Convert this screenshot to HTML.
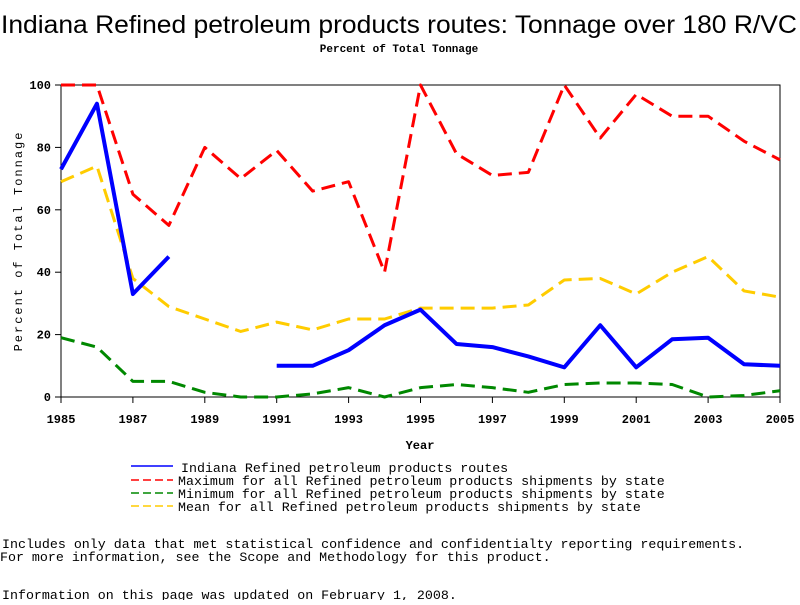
<!DOCTYPE html>
<html><head><meta charset="utf-8"><style>
body{margin:0;background:#fff;width:800px;height:600px;overflow:hidden}
svg text{font-family:"Liberation Mono",monospace}
</style></head><body>
<svg id="chart" width="800" height="600" xmlns="http://www.w3.org/2000/svg">
<text x="1" y="33" font-family="Liberation Sans, sans-serif" style="font-family:'Liberation Sans',sans-serif" font-size="25" textLength="796" lengthAdjust="spacingAndGlyphs">Indiana Refined petroleum products routes: Tonnage over 180 R/VC</text>
<text x="399" y="52" font-size="11" font-weight="bold" text-anchor="middle">Percent of Total Tonnage</text>
<rect x="61" y="85" width="719" height="312" fill="none" stroke="#000" stroke-width="1"/>
<g id="axes"></g>
<g id="series"></g>
<text x="420" y="449" font-size="12" font-weight="bold" text-anchor="middle">Year</text>
<text transform="translate(22,241) rotate(-90)" font-size="12" text-anchor="middle" letter-spacing="2">Percent of Total Tonnage</text>
<g font-size="13.3">
<line x1="131" y1="466" x2="173" y2="466" stroke="#00f" stroke-width="1.5"/>
<text x="181" y="472">Indiana Refined petroleum products routes</text>
<line x1="131" y1="480" x2="173" y2="480" stroke="#f00" stroke-width="1.5" stroke-dasharray="8,4"/>
<text x="178" y="485">Maximum for all Refined petroleum products shipments by state</text>
<line x1="131" y1="493" x2="173" y2="493" stroke="#080" stroke-width="1.5" stroke-dasharray="8,4"/>
<text x="178" y="498">Minimum for all Refined petroleum products shipments by state</text>
<line x1="131" y1="506" x2="173" y2="506" stroke="#fc0" stroke-width="1.5" stroke-dasharray="8,4"/>
<text x="178" y="511">Mean for all Refined petroleum products shipments by state</text>
</g>
<g font-size="13.3">
<text x="2" y="548">Includes only data that met statistical confidence and confidentialty reporting requirements.</text>
<text x="0" y="561">For more information, see the Scope and Methodology for this product.</text>
<text x="2" y="599">Information on this page was updated on February 1, 2008.</text>
</g>
</svg>
<script>
const years=[1985,1986,1987,1988,1989,1990,1991,1992,1993,1994,1995,1996,1997,1998,1999,2000,2001,2002,2003,2004,2005];
const indiana=[73,94,33,45,null,null,10,10,15,23,28,17,16,13,9.5,23,9.5,18.5,19,10.5,10];
const maximum=[100,100,65,55,80,70,79,66,69,40,100,78,71,72,100,83,97,90,90,82,76];
const minimum=[19,16,5,5,1.5,0,0,1,3,0,3,4,3,1.5,4,4.5,4.5,4,0,0.5,2];
const mean=[69,74,38,29,25,21,24,21.5,25,25,28.5,28.5,28.5,29.5,37.5,38,33,40,45,34,32];
const yTicks=[0,20,40,60,80,100];
const xTicks=[1985,1987,1989,1991,1993,1995,1997,1999,2001,2003,2005];
const NS='http://www.w3.org/2000/svg';
function xs(y){return 61+(y-1985)*(719/20);}
function ys(v){return 397-v*3.12;}
const axes=document.getElementById('axes'),ser=document.getElementById('series');
function mk(tag,attrs,parent){const e=document.createElementNS(NS,tag);for(const k in attrs)e.setAttribute(k,attrs[k]);parent.appendChild(e);return e;}
yTicks.forEach(v=>{
  const t=mk('line',{x1:55,x2:61,y1:ys(v),y2:ys(v),stroke:'#000'},axes);
  
  
  const l=mk('text',{x:51,y:ys(v)+4,'font-size':12,'font-weight':'bold','text-anchor':'end'},axes);
  l.textContent=v;
  
  
});
xTicks.forEach(v=>{
  const t=mk('line',{x1:xs(v),x2:xs(v),y1:397,y2:403,stroke:'#000'},axes);
  
  
  const l=mk('text',{x:xs(v),y:423,'font-size':12,'font-weight':'bold','text-anchor':'middle'},axes);
  l.textContent=v;
  
  
});
function draw(vals,color,w,dash,name){
  let segs=[],cur=[];
  vals.forEach((v,i)=>{if(v==null){if(cur.length)segs.push(cur);cur=[];}else cur.push(xs(years[i])+','+ys(v));});
  if(cur.length)segs.push(cur);
  segs.forEach(s=>{
    const p=mk('polyline',{points:s.join(' '),fill:'none',stroke:color,'stroke-width':w,'stroke-linejoin':'round'},ser);
    if(dash)p.setAttribute('stroke-dasharray',dash);
    
    
  });
}
draw(mean,'#fc0',3,'14,7','mean-line');
draw(minimum,'#080',3,'14,7','minimum-line');
draw(maximum,'#f00',3,'14,7','maximum-line');
draw(indiana,'#00f',4,null,'indiana-line');
</script>
</body></html>
